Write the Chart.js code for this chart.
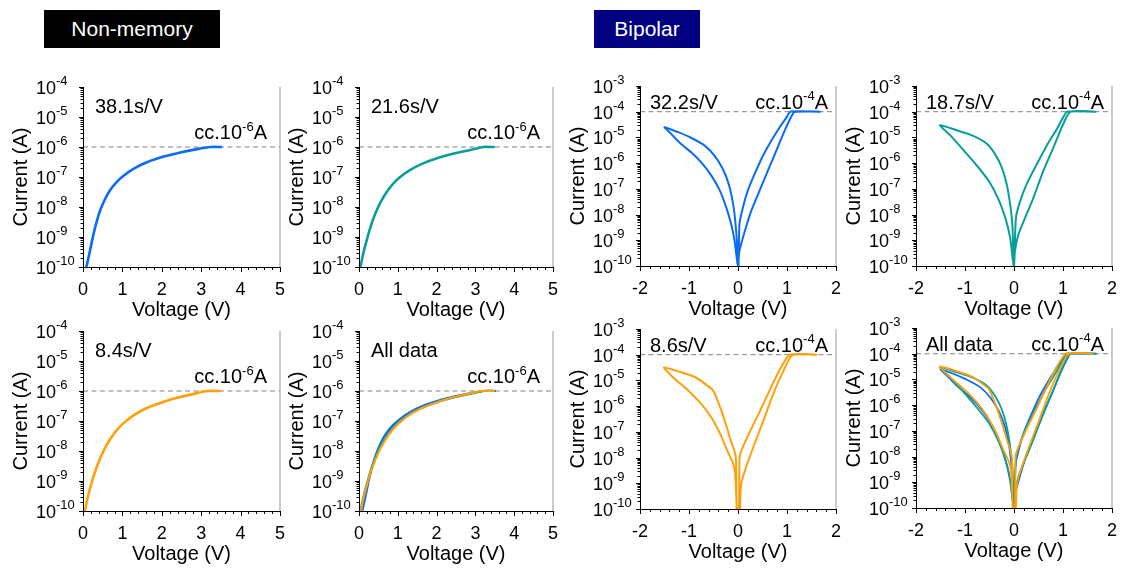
<!DOCTYPE html>
<html>
<head>
<meta charset="utf-8">
<script src="https://cdn.jsdelivr.net/npm/chart.js@4.4.1/dist/chart.umd.min.js"></script>
<style>
  body { margin: 0; background: #fff; width: 1122px; height: 574px; position: relative; overflow: hidden; }
  .tag { position: absolute; top: 10px; height: 38px; line-height: 38px; color: #fff; text-align: center;
         font-family: 'Liberation Sans', Arial, sans-serif; font-size: 21px; }
</style>
</head>
<body>
<div class="tag" style="left:44px;width:176px;background:#000">Non-memory</div>
<div class="tag" style="left:594px;width:106px;background:#000080">Bipolar</div>
<script>
// Non-memory sweeps, voltage (V) and current (A)
const nm38V = [0.08, 0.1, 0.19, 0.27, 0.36, 0.44, 0.57, 0.69, 0.86, 1.03, 1.29, 1.62, 2.05, 2.47, 2.89, 3.23, 3.53];
const nm38I = [1e-10, 1.2e-10, 4.2e-10, 1.3e-9, 3.7e-9, 7.9e-9, 1.95e-8, 3.7e-8, 6.9e-8, 1.1e-7, 1.9e-7, 3.1e-7, 4.8e-7, 6.6e-7, 8.5e-7, 1e-6, 1e-6];
const nm21V = [0.04, 0.1, 0.2, 0.3, 0.41, 0.55, 0.7, 0.86, 1.03, 1.3, 1.62, 2.05, 2.47, 2.89, 3.2, 3.5];
const nm21I = [1e-10, 2.5e-10, 7.9e-10, 2.2e-9, 5.6e-9, 1.4e-8, 3e-8, 5.6e-8, 9.3e-8, 1.66e-7, 2.75e-7, 4.4e-7, 6.2e-7, 8.1e-7, 1e-6, 1e-6];
const nm8V = [0.05, 0.1, 0.2, 0.3, 0.41, 0.55, 0.7, 0.86, 1.03, 1.3, 1.62, 2.05, 2.47, 2.89, 3.15, 3.5];
const nm8I = [1e-10, 2.2e-10, 7.1e-10, 1.9e-9, 4.7e-9, 1.2e-8, 2.6e-8, 5e-8, 8.5e-8, 1.6e-7, 2.7e-7, 4.4e-7, 6.3e-7, 8.5e-7, 1e-6, 1e-6];

// Bipolar sweeps: set branch, compliance plateau, return, then reset loop on the negative side
const bp32V = [0.0, 0.03, 0.14, 0.27, 0.44, 0.61, 0.78, 0.95, 1.10, 1.16, 1.67, 1.07,
               0.99, 0.85, 0.68, 0.51, 0.34, 0.20, 0.10, 0.03, 0.01,
               -0.01, -0.07, -0.14, -0.24, -0.37, -0.54, -0.75, -0.95, -1.16, -1.36, -1.50,
               -1.22, -0.95, -0.68, -0.48, -0.31, -0.19, -0.10, -0.05, -0.01, 0.0];
const bp32I = [1e-10, 3.9e-10, 2.3e-9, 1.4e-8, 8.5e-8, 5.1e-7, 3.0e-6, 1.8e-5, 7.1e-5, 1e-4, 1e-4, 1e-4,
               6e-5, 2.5e-5, 7.4e-6, 1.95e-6, 3.8e-7, 8.5e-8, 1.9e-8, 4.3e-9, 1e-10,
               1.2e-10, 9.5e-10, 4.3e-9, 1.9e-8, 8.5e-8, 3.2e-7, 1.07e-6, 2.6e-6, 5.5e-6, 1.35e-5, 2.5e-5,
               1.6e-5, 9.5e-6, 4.8e-6, 1.95e-6, 5.9e-7, 1.55e-7, 2.6e-8, 4.3e-9, 3.9e-10, 1e-10];
const bp18V = [0.0, 0.02, 0.09, 0.23, 0.4, 0.6, 0.81, 0.98, 1.15, 1.66, 1.08,
               1.01, 0.88, 0.67, 0.47, 0.26, 0.13, 0.04, 0.01, 0.0,
               -0.02, -0.08, -0.18, -0.32, -0.52, -0.76, -1.03, -1.30, -1.51,
               -1.17, -0.83, -0.56, -0.39, -0.25, -0.15, -0.08, -0.03, -0.01];
const bp18I = [1e-10, 3.9e-10, 1.7e-9, 7.8e-9, 4.7e-8, 5.1e-7, 4.3e-6, 2.6e-5, 1e-4, 1e-4, 1e-4,
               6.3e-5, 2.2e-5, 4.9e-6, 9.5e-7, 1.55e-7, 3.5e-8, 7.8e-9, 2.1e-10, 1e-10,
               1.5e-10, 1.3e-9, 7.8e-9, 4.1e-8, 2.1e-7, 8.1e-7, 3.2e-6, 1.2e-5, 3e-5,
               1.9e-5, 1.15e-5, 5.8e-6, 2.3e-6, 6.9e-7, 1.55e-7, 2.6e-8, 3.2e-9, 1e-10];
const bp8V = [0.04, 0.06, 0.13, 0.3, 0.51, 0.71, 0.92, 1.12, 1.6, 1.06,
              0.85, 0.65, 0.44, 0.24, 0.06, 0.03, 0.02,
              -0.02, -0.06, -0.11, -0.21, -0.35, -0.55, -0.79, -1.06, -1.34, -1.51,
              -1.2, -0.86, -0.55, -0.5, -0.38, -0.24, -0.14, -0.07, -0.04, -0.03];
const bp8I = [1e-10, 8.1e-10, 2.7e-9, 2.2e-8, 2.5e-7, 2.7e-6, 2.2e-5, 1e-4, 1e-4, 1e-4,
              2.6e-5, 4.3e-6, 6e-7, 1e-7, 1.7e-8, 8.9e-9, 1e-10,
              1e-10, 2.7e-9, 6.6e-9, 1.7e-8, 7.4e-8, 3.8e-7, 1.5e-6, 4.9e-6, 1.4e-5, 3.2e-5,
              2.2e-5, 1.3e-5, 4.9e-6, 3.8e-6, 1.1e-6, 1.8e-7, 4.1e-8, 1.7e-8, 7.9e-9, 1e-10];

// Compliance currents and axis ticks
const nmCap = 1e-6;
const bpCap = 1e-4;
const nmTicksX = [0, 1, 2, 3, 4, 5];
const bpTicksX = [-2, -1, 0, 1, 2];
const nmDecades = [-10, -9, -8, -7, -6, -5, -4];
const bpDecades = [-10, -9, -8, -7, -6, -5, -4, -3];

const BLUE = '#0a6cf2', TEAL = '#0a9e98', ORANGE = '#ffa00a';
const FONT = "'Liberation Sans', Arial, sans-serif";

const s38 = { v: nm38V, i: nm38I, color: BLUE, order: 3 };
const s21 = { v: nm21V, i: nm21I, color: TEAL, order: 2 };
const s84 = { v: nm8V, i: nm8I, color: ORANGE, order: 1 };
const b32 = { v: bp32V, i: bp32I, color: BLUE, order: 3 };
const b18 = { v: bp18V, i: bp18I, color: TEAL, order: 2 };
const b86 = { v: bp8V, i: bp8I, color: ORANGE, order: 1 };

const nmAxes = { ticksX: nmTicksX, decades: nmDecades, cap: nmCap, capExp: '-6', minor: 0.2 };
const bpAxes = { ticksX: bpTicksX, decades: bpDecades, cap: bpCap, capExp: '-4', minor: 0.2 };

const panels = [
  { area: [83, 87, 280, 267], axes: nmAxes, sweeps: [s38], note: '38.1s/V', lw: 2.6 },
  { area: [359, 87, 553, 267], axes: nmAxes, sweeps: [s21], note: '21.6s/V', lw: 2.6 },
  { area: [640, 86, 836, 266], axes: bpAxes, sweeps: [b32], note: '32.2s/V', lw: 2 },
  { area: [916, 86, 1112, 266], axes: bpAxes, sweeps: [b18], note: '18.7s/V', lw: 2 },
  { area: [83, 331, 280, 511], axes: nmAxes, sweeps: [s84], note: '8.4s/V', lw: 2.6 },
  { area: [359, 331, 553, 511], axes: nmAxes, sweeps: [s38, s21, s84], note: 'All data', lw: 2.2 },
  { area: [640, 329, 836, 509], axes: bpAxes, sweeps: [b86], note: '8.6s/V', lw: 2 },
  { area: [916, 328, 1112, 508], axes: bpAxes, sweeps: [b32, b18, b86], note: 'All data', lw: 1.8 }
];

// text runs like "10" + raised exponent
function drawRuns(ctx, runs, x, y, align) {
  let w = 0;
  runs.forEach(r => { ctx.font = r.size + 'px ' + FONT; r.w = ctx.measureText(r.t).width; w += r.w; });
  let cx = align === 'right' ? x - w : align === 'center' ? x - w / 2 : x;
  runs.forEach(r => {
    ctx.font = r.size + 'px ' + FONT;
    ctx.fillText(r.t, cx, y - (r.rise || 0));
    cx += r.w;
  });
}

const decor = {
  id: 'decor',
  afterDraw(chart) {
    const o = chart.options.plugins.decor;
    const { ctx, chartArea: a } = chart;
    const x = chart.scales.x, y = chart.scales.y;
    ctx.save();
    ctx.lineCap = 'butt';

    // right frame
    ctx.strokeStyle = '#a8a8a8';
    ctx.lineWidth = 1.2;
    ctx.beginPath(); ctx.moveTo(a.right, a.top); ctx.lineTo(a.right, a.bottom); ctx.stroke();

    // axis lines
    ctx.strokeStyle = '#000';
    ctx.lineWidth = 1;
    ctx.beginPath();
    ctx.moveTo(a.left + 0.5, a.top); ctx.lineTo(a.left + 0.5, a.bottom + 0.5);
    ctx.lineTo(a.right, a.bottom + 0.5);
    ctx.stroke();

    // y ticks (log) with superscript labels
    ctx.fillStyle = '#000';
    ctx.textBaseline = 'alphabetic';
    const dec = o.axes.decades;
    dec.forEach((e, k) => {
      const py = Math.round(y.getPixelForValue(Math.pow(10, e))) + 0.5;
      ctx.beginPath(); ctx.moveTo(a.left - 4, py); ctx.lineTo(a.left, py); ctx.stroke();
      if (k < dec.length - 1) {
        for (let m = 2; m <= 9; m++) {
          const my = Math.round(y.getPixelForValue(m * Math.pow(10, e))) + 0.5;
          ctx.beginPath(); ctx.moveTo(a.left - 2.5, my); ctx.lineTo(a.left, my); ctx.stroke();
        }
      }
      drawRuns(ctx, [{ t: '10', size: 18 }, { t: String(e), size: 13, rise: 9.5 }], a.left - 47, py + 6.5, 'left');
    });

    // x ticks, majors at labelled values, minors between
    const tx = o.axes.ticksX;
    const step = o.axes.minor;
    const n = Math.round((tx[tx.length - 1] - tx[0]) / step);
    for (let i = 0; i <= n; i++) {
      const v = tx[0] + i * step;
      const px = Math.round(x.getPixelForValue(v)) + 0.5;
      const major = Math.abs(v - Math.round(v)) < 1e-6;
      ctx.beginPath(); ctx.moveTo(px, a.bottom); ctx.lineTo(px, a.bottom + (major ? 5 : 3)); ctx.stroke();
    }
    tx.forEach(v => {
      drawRuns(ctx, [{ t: String(v), size: 18 }], x.getPixelForValue(v), a.bottom + 27.5, 'center');
    });

    // sweep-rate note and compliance label
    const capY = y.getPixelForValue(o.axes.cap);
    drawRuns(ctx, [{ t: o.note, size: 20 }], a.left + o.noteDx, a.top + o.noteDy, 'left');
    drawRuns(ctx, [{ t: 'cc.10', size: 20 }, { t: o.axes.capExp, size: 13, rise: 8.5 }, { t: 'A', size: 20 }],
             a.right - o.ccDx, capY - o.ccDy, 'right');
    ctx.restore();
  }
};

panels.forEach(p => {
  const [l, t, r, b] = p.area;
  const bip = p.axes === bpAxes;
  const cl = l - 78, ct = t - 14;
  const canvas = document.createElement('canvas');
  canvas.width = r + 8 - cl;
  canvas.height = b + 57 - ct;
  canvas.style.cssText = 'position:absolute;left:' + cl + 'px;top:' + ct + 'px;';
  document.body.appendChild(canvas);

  const tx = p.axes.ticksX;
  const xMin = tx[0], xMax = tx[tx.length - 1];
  const dec = p.axes.decades;

  const datasets = p.sweeps.map(s => ({
    data: s.v.map((v, k) => ({ x: v, y: s.i[k] })),
    showLine: true,
    borderColor: s.color,
    borderWidth: p.lw,
    pointRadius: 0,
    tension: 0.2,
    order: s.order
  }));
  datasets.push({
    data: [{ x: xMin, y: p.axes.cap }, { x: xMax, y: p.axes.cap }],
    showLine: true,
    borderColor: bip ? '#9a9a9a' : '#808080',
    borderWidth: 1.2,
    borderDash: [5, 3.5],
    pointRadius: 0,
    order: 10
  });

  new Chart(canvas, {
    type: 'scatter',
    data: { datasets },
    options: {
      responsive: false,
      animation: false,
      layout: { padding: { left: 4, top: 14, right: 8, bottom: 2 } },
      plugins: {
        legend: { display: false },
        tooltip: { enabled: false },
        decor: {
          axes: p.axes,
          note: p.note,
          noteDx: bip ? 10 : 12,
          noteDy: bip ? 23 : 26,
          ccDx: bip ? 8 : 13,
          ccDy: bip ? 3 : 8
        }
      },
      scales: {
        x: {
          type: 'linear',
          min: xMin,
          max: xMax,
          afterFit(s) { s.height = 55; },
          grid: { display: false, drawTicks: false },
          border: { display: false },
          ticks: { display: false },
          title: { display: true, text: 'Voltage (V)', font: { size: 20, family: FONT }, color: '#000', padding: 0 }
        },
        y: {
          type: 'logarithmic',
          min: Math.pow(10, dec[0]),
          max: Math.pow(10, dec[dec.length - 1]),
          afterFit(s) { s.width = 74; },
          grid: { display: false, drawTicks: false },
          border: { display: false },
          ticks: { display: false },
          title: { display: true, text: 'Current (A)', font: { size: 20, family: FONT }, color: '#000', padding: 0 }
        }
      }
    },
    plugins: [decor]
  });
});
</script>
</body>
</html>
